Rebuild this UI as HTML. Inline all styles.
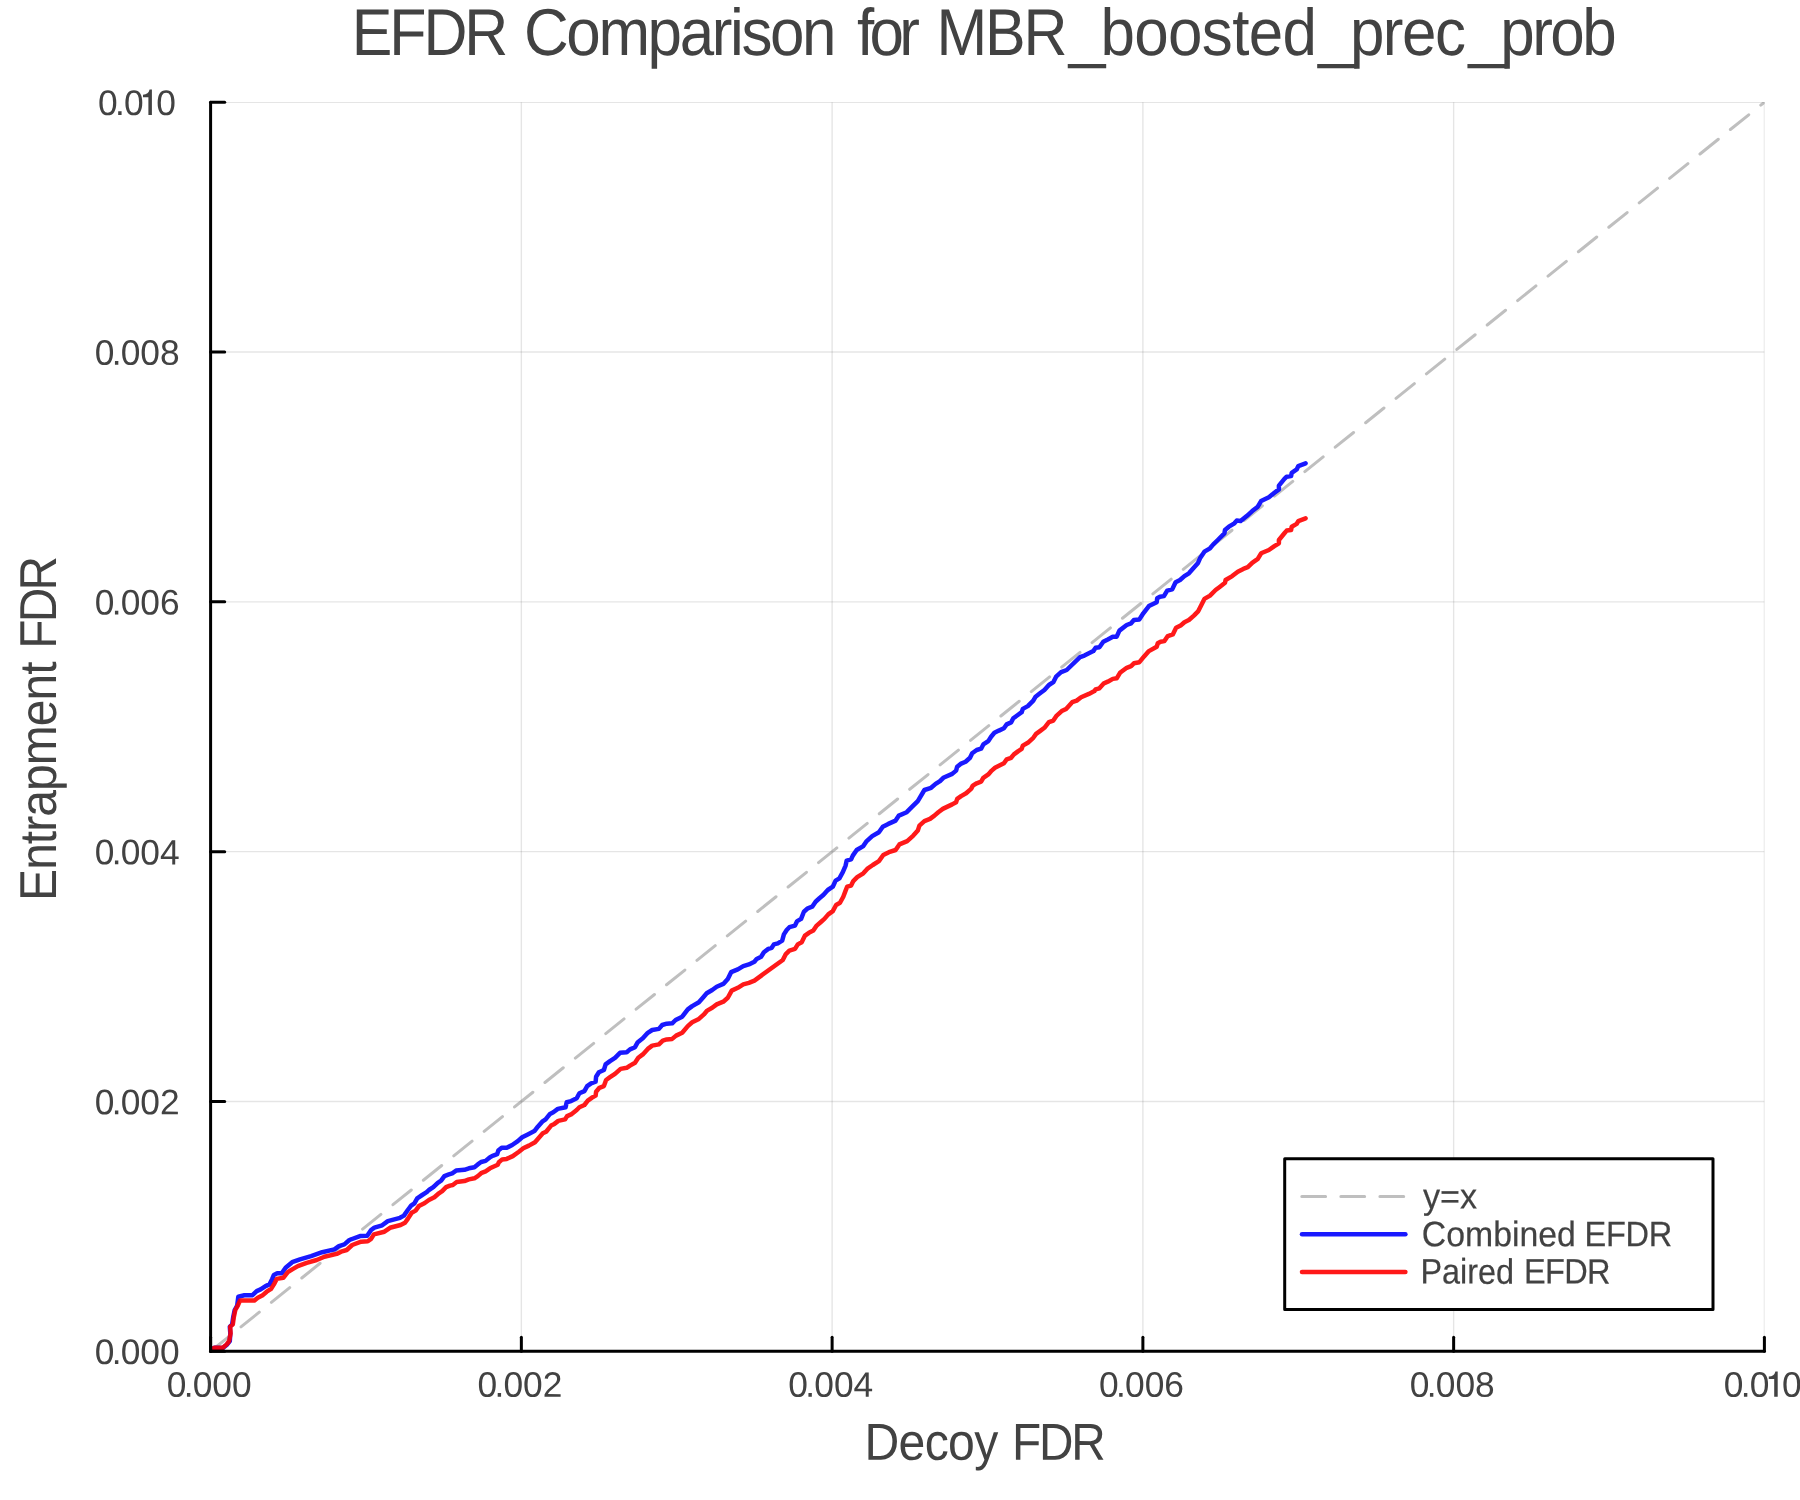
<!DOCTYPE html>
<html lang="en"><head><meta charset="utf-8"><title>EFDR Comparison for MBR_boosted_prec_prob</title>
<style>html,body{margin:0;padding:0;background:#fff;}body{width:1800px;height:1500px;overflow:hidden;}svg{display:block;will-change:transform;}text{font-family:"Liberation Sans",sans-serif;fill:#424242;}</style></head><body>
<svg width="1800" height="1500" viewBox="0 0 1800 1500">
<rect width="1800" height="1500" fill="#fff"/>
<defs><clipPath id="pa"><rect x="210.6" y="101.95" width="1554.0500000000002" height="1249.35"/></clipPath></defs>
<g clip-path="url(#pa)" stroke="#000" stroke-opacity="0.1" stroke-width="1.4" fill="none">
<line x1="210.60" y1="102.20" x2="210.60" y2="1351.30"/>
<line x1="210.60" y1="1351.30" x2="1764.40" y2="1351.30"/>
<line x1="521.36" y1="102.20" x2="521.36" y2="1351.30"/>
<line x1="210.60" y1="1101.48" x2="1764.40" y2="1101.48"/>
<line x1="832.12" y1="102.20" x2="832.12" y2="1351.30"/>
<line x1="210.60" y1="851.66" x2="1764.40" y2="851.66"/>
<line x1="1142.88" y1="102.20" x2="1142.88" y2="1351.30"/>
<line x1="210.60" y1="601.84" x2="1764.40" y2="601.84"/>
<line x1="1453.64" y1="102.20" x2="1453.64" y2="1351.30"/>
<line x1="210.60" y1="352.02" x2="1764.40" y2="352.02"/>
<line x1="1764.40" y1="102.20" x2="1764.40" y2="1351.30"/>
<line x1="210.60" y1="102.20" x2="1764.40" y2="102.20"/>
</g>
<g clip-path="url(#pa)" fill="none" stroke-linecap="round" stroke-linejoin="round">
<line x1="210.6" y1="1351.3" x2="1764.4" y2="102.2" stroke="#808080" stroke-opacity="0.5" stroke-width="3" stroke-dasharray="23.5 15.5"/>
<path d="M211.1,1349.4 L214.4,1347.8 L222.8,1348.0 L227.2,1344.4 L229.8,1341.1 L230.3,1333.3 L229.8,1326.7 L232.2,1324.2 L233.3,1316.7 L234.7,1310.0 L237.2,1305.6 L238.3,1296.7 L244.4,1295.3 L252.2,1295.3 L256.7,1291.1 L260.6,1289.4 L265.6,1286.1 L269.4,1284.4 L272.2,1278.9 L273.9,1275.0 L277.2,1273.3 L281.7,1273.3 L285.6,1267.8 L292.2,1262.2 L300.0,1259.4 L311.1,1256.1 L322.2,1252.2 L334.4,1249.4 L338.9,1246.1 L344.4,1244.4 L349.4,1240.0 L360.0,1236.1 L367.2,1235.8 L371.1,1230.0 L374.4,1227.6 L382.2,1225.3 L387.8,1221.1 L400.0,1217.8 L403.9,1215.6 L407.8,1210.0 L411.1,1205.6 L414.4,1203.3 L417.2,1198.3 L422.2,1195.0 L426.7,1192.2 L428.9,1190.0 L433.3,1187.2 L437.8,1182.8 L441.1,1180.6 L444.4,1176.1 L448.9,1174.4 L452.2,1173.3 L456.1,1170.6 L464.4,1169.8 L468.9,1168.3 L474.4,1167.2 L477.8,1164.4 L481.1,1162.0 L485.6,1160.9 L490.0,1157.2 L493.3,1155.6 L497.2,1154.2 L498.3,1150.6 L501.7,1147.8 L506.7,1147.8 L512.2,1145.0 L517.8,1141.1 L522.2,1137.2 L527.8,1134.4 L534.4,1131.1 L537.8,1126.7 L542.2,1121.7 L545.6,1119.4 L550.0,1113.9 L553.3,1112.2 L557.8,1108.9 L565.6,1107.2 L566.7,1102.2 L571.1,1101.1 L576.7,1098.3 L579.4,1093.3 L584.4,1091.1 L587.2,1086.1 L591.1,1083.3 L595.6,1081.7 L596.1,1076.7 L598.9,1072.2 L603.9,1070.0 L605.6,1064.4 L610.0,1061.1 L615.0,1057.8 L620.0,1052.8 L626.7,1052.2 L630.0,1049.4 L635.0,1047.2 L637.8,1042.2 L642.8,1038.3 L647.8,1032.8 L652.2,1030.0 L658.9,1028.9 L662.2,1025.0 L666.7,1023.7 L672.2,1023.3 L675.6,1020.0 L682.2,1016.7 L687.8,1009.4 L692.2,1006.1 L698.9,1002.2 L703.3,997.2 L706.7,993.3 L712.2,990.0 L716.7,986.7 L723.3,983.9 L727.8,978.9 L731.1,972.2 L737.8,969.4 L743.3,966.1 L748.9,964.4 L754.4,961.7 L756.7,958.9 L761.1,956.7 L763.9,952.2 L768.3,948.9 L771.7,947.8 L773.9,944.4 L777.8,943.3 L782.2,940.6 L783.9,934.4 L786.7,930.0 L789.4,927.2 L795.0,925.6 L797.2,921.1 L801.1,918.9 L803.9,911.7 L807.8,908.3 L812.2,906.7 L815.6,901.7 L819.4,898.3 L823.3,895.0 L827.8,890.0 L832.8,886.7 L835.6,880.6 L839.4,878.3 L842.8,872.2 L845.6,865.6 L846.7,860.6 L851.1,859.4 L852.8,855.6 L856.7,850.0 L863.3,846.1 L866.7,841.1 L872.2,836.1 L878.9,832.2 L882.8,826.7 L888.3,823.9 L895.6,820.6 L898.9,815.6 L906.7,812.2 L912.2,806.7 L917.8,801.1 L924.4,790.0 L931.1,787.8 L935.6,783.9 L940.0,781.1 L943.3,777.8 L952.2,773.9 L956.1,770.6 L957.2,766.7 L960.6,763.9 L965.6,761.7 L970.0,757.8 L972.2,753.3 L976.7,750.0 L981.1,748.7 L983.3,744.4 L988.3,741.1 L991.1,736.7 L994.4,732.8 L998.9,730.6 L1003.9,728.3 L1006.7,724.4 L1011.1,722.4 L1013.3,718.3 L1017.8,715.0 L1021.7,712.2 L1022.8,708.9 L1027.8,706.1 L1033.3,700.6 L1035.6,696.7 L1040.0,693.3 L1044.4,690.0 L1048.9,685.0 L1053.3,682.2 L1056.1,676.7 L1061.1,672.2 L1066.7,670.0 L1080.0,657.2 L1084.4,655.6 L1093.3,651.1 L1095.6,647.8 L1099.4,647.2 L1103.3,641.7 L1107.8,639.4 L1112.8,636.7 L1116.7,636.7 L1119.4,630.6 L1126.7,625.0 L1131.1,623.3 L1133.9,620.0 L1139.4,619.4 L1143.3,613.3 L1148.9,606.1 L1156.7,602.2 L1157.2,598.3 L1160.0,596.7 L1163.9,596.1 L1167.2,590.6 L1172.2,589.4 L1175.6,582.2 L1180.0,580.0 L1184.4,576.1 L1188.9,573.3 L1193.3,568.3 L1197.8,563.3 L1200.0,558.3 L1204.4,551.7 L1210.0,548.3 L1213.3,544.4 L1217.8,540.0 L1224.4,533.3 L1225.0,530.0 L1228.9,526.7 L1234.4,523.3 L1236.7,520.6 L1240.6,521.1 L1246.7,516.1 L1252.2,511.1 L1257.8,506.7 L1261.1,501.1 L1268.9,497.2 L1274.4,492.8 L1278.9,489.4 L1278.9,485.6 L1284.4,478.9 L1286.7,476.7 L1291.1,476.1 L1291.7,472.8 L1296.7,469.4 L1298.3,466.1 L1305.6,463.3" stroke="#0000ff" stroke-opacity="0.9" stroke-width="4.5"/>
<path d="M211.1,1349.4 L214.4,1347.8 L222.8,1347.8 L226.7,1344.4 L229.1,1341.1 L230.6,1333.3 L230.2,1326.7 L232.8,1324.4 L233.9,1316.7 L235.3,1310.0 L237.8,1305.6 L240.0,1300.6 L254.4,1300.6 L257.8,1297.8 L262.2,1295.6 L266.7,1291.7 L271.1,1288.9 L273.9,1284.4 L276.7,1278.9 L283.3,1277.8 L287.8,1272.2 L292.2,1269.4 L297.8,1266.1 L306.7,1262.8 L316.7,1260.0 L324.4,1256.7 L336.7,1253.9 L341.1,1251.7 L346.7,1250.0 L352.2,1245.0 L361.1,1241.7 L367.8,1241.3 L371.1,1238.9 L373.9,1234.4 L384.4,1231.7 L390.0,1227.8 L400.6,1225.0 L405.0,1222.8 L407.8,1218.9 L411.7,1212.8 L415.6,1210.6 L418.9,1206.1 L424.4,1203.3 L428.9,1200.0 L434.4,1197.2 L438.9,1193.3 L442.2,1191.1 L446.1,1187.2 L450.0,1185.6 L452.8,1185.0 L456.7,1182.0 L464.4,1181.1 L468.9,1179.4 L474.4,1178.3 L477.8,1176.1 L481.7,1172.8 L485.6,1171.3 L490.0,1168.3 L493.3,1166.7 L497.8,1164.7 L498.9,1162.2 L502.2,1159.4 L506.7,1158.9 L512.8,1156.1 L518.9,1151.7 L523.3,1148.3 L528.9,1145.6 L535.0,1142.2 L538.9,1137.8 L542.8,1133.3 L546.1,1131.7 L551.1,1125.6 L554.4,1123.9 L558.3,1120.9 L565.0,1119.4 L567.2,1116.1 L571.1,1114.4 L576.7,1110.0 L579.4,1107.2 L584.4,1105.0 L587.8,1100.6 L591.7,1097.8 L595.6,1095.6 L596.1,1091.7 L599.4,1087.8 L603.9,1086.1 L606.1,1080.0 L610.0,1077.2 L615.0,1073.9 L620.6,1068.9 L626.7,1067.8 L630.0,1065.6 L635.0,1062.8 L638.3,1057.8 L642.8,1054.4 L647.8,1048.9 L652.2,1045.6 L658.9,1044.4 L662.8,1040.6 L666.7,1039.4 L672.2,1038.9 L676.1,1035.6 L682.2,1032.8 L687.8,1026.1 L692.2,1022.2 L698.9,1018.9 L703.9,1014.4 L707.2,1010.6 L712.2,1007.8 L716.7,1004.4 L723.3,1001.7 L727.8,997.8 L731.7,990.6 L737.8,987.8 L743.3,984.4 L748.9,982.8 L754.4,980.6 L782.8,960.0 L785.6,954.4 L789.4,950.6 L795.0,948.9 L797.8,944.4 L801.7,942.2 L805.0,935.6 L808.9,932.8 L813.3,930.6 L816.7,925.6 L820.6,922.2 L824.4,918.9 L828.3,914.4 L832.8,911.1 L836.1,905.0 L840.0,902.8 L843.3,896.7 L845.6,890.6 L847.2,886.7 L851.1,885.6 L853.3,881.1 L857.2,877.2 L863.3,873.3 L867.2,868.9 L872.8,865.0 L878.9,861.1 L883.3,855.0 L888.9,852.2 L895.6,850.0 L899.4,844.4 L907.2,841.1 L913.3,835.6 L917.8,830.6 L919.4,825.6 L924.4,821.1 L930.0,818.9 L934.4,815.6 L938.3,812.2 L942.8,808.9 L952.2,804.4 L956.1,802.2 L957.2,798.9 L961.1,796.1 L966.1,793.3 L971.1,788.9 L972.8,785.6 L976.7,783.3 L981.1,781.7 L983.3,777.8 L988.3,774.4 L991.7,770.6 L995.0,767.8 L999.4,765.6 L1003.9,763.3 L1006.7,759.4 L1011.1,757.8 L1013.9,754.4 L1018.3,751.1 L1021.7,748.9 L1022.8,745.6 L1027.8,742.8 L1033.3,737.8 L1036.1,733.9 L1040.6,730.6 L1044.4,727.8 L1048.9,722.2 L1053.3,720.6 L1056.7,715.6 L1061.7,711.1 L1066.1,708.9 L1072.2,702.2 L1076.7,700.6 L1081.1,697.2 L1088.9,693.9 L1094.4,691.1 L1095.6,689.4 L1099.4,688.3 L1103.9,683.3 L1107.8,681.7 L1112.8,678.9 L1116.7,678.3 L1120.0,672.8 L1126.7,667.8 L1131.1,666.1 L1133.9,663.3 L1139.4,662.2 L1143.9,656.7 L1148.9,651.1 L1156.7,646.7 L1157.8,643.3 L1160.6,641.7 L1164.4,641.1 L1167.8,636.1 L1172.8,634.4 L1176.1,627.8 L1180.6,625.6 L1184.4,622.2 L1188.9,620.0 L1193.9,615.6 L1198.3,611.1 L1201.1,605.6 L1204.4,598.9 L1210.0,595.6 L1215.6,590.0 L1220.0,586.7 L1225.0,582.8 L1225.6,580.0 L1232.2,576.1 L1237.8,571.7 L1243.3,568.9 L1247.8,567.2 L1252.2,562.8 L1257.8,558.9 L1261.1,553.3 L1268.9,550.0 L1274.4,546.1 L1278.9,543.3 L1278.9,540.0 L1284.4,533.3 L1286.7,530.6 L1291.1,530.0 L1291.7,526.7 L1296.7,523.9 L1298.3,521.1 L1305.6,518.3" stroke="#ff0000" stroke-opacity="0.9" stroke-width="4.5"/>
</g>
<g stroke="#000" stroke-width="3" stroke-linecap="round" fill="none">
<line x1="210.6" y1="102.2" x2="210.6" y2="1351.3"/>
<line x1="210.6" y1="1351.3" x2="1764.4" y2="1351.3"/>
<line x1="210.60" y1="1351.3" x2="210.60" y2="1337.20"/>
<line x1="210.6" y1="1351.30" x2="224.70" y2="1351.30"/>
<line x1="521.36" y1="1351.3" x2="521.36" y2="1337.20"/>
<line x1="210.6" y1="1101.48" x2="224.70" y2="1101.48"/>
<line x1="832.12" y1="1351.3" x2="832.12" y2="1337.20"/>
<line x1="210.6" y1="851.66" x2="224.70" y2="851.66"/>
<line x1="1142.88" y1="1351.3" x2="1142.88" y2="1337.20"/>
<line x1="210.6" y1="601.84" x2="224.70" y2="601.84"/>
<line x1="1453.64" y1="1351.3" x2="1453.64" y2="1337.20"/>
<line x1="210.6" y1="352.02" x2="224.70" y2="352.02"/>
<line x1="1764.40" y1="1351.3" x2="1764.40" y2="1337.20"/>
<line x1="210.6" y1="102.20" x2="224.70" y2="102.20"/>
</g>
<text transform="translate(166.79,1396.80) rotate(0.03) scale(1.0,1.0)" font-size="35.35">0<tspan dx="-2.7">.</tspan><tspan dx="-0.86">000</tspan></text>
<text transform="translate(94.79,1364.00) rotate(0.03) scale(1.0,1.0)" font-size="35.35">0<tspan dx="-2.7">.</tspan><tspan dx="-0.86">000</tspan></text>
<text transform="translate(477.55,1396.80) rotate(0.03) scale(1.0,1.0)" font-size="35.35">0<tspan dx="-2.7">.</tspan><tspan dx="-0.86">002</tspan></text>
<text transform="translate(94.79,1114.18) rotate(0.03) scale(1.0,1.0)" font-size="35.35">0<tspan dx="-2.7">.</tspan><tspan dx="-0.86">002</tspan></text>
<text transform="translate(788.31,1396.80) rotate(0.03) scale(1.0,1.0)" font-size="35.35">0<tspan dx="-2.7">.</tspan><tspan dx="-0.86">004</tspan></text>
<text transform="translate(94.79,864.36) rotate(0.03) scale(1.0,1.0)" font-size="35.35">0<tspan dx="-2.7">.</tspan><tspan dx="-0.86">004</tspan></text>
<text transform="translate(1099.07,1396.80) rotate(0.03) scale(1.0,1.0)" font-size="35.35">0<tspan dx="-2.7">.</tspan><tspan dx="-0.86">006</tspan></text>
<text transform="translate(94.79,614.54) rotate(0.03) scale(1.0,1.0)" font-size="35.35">0<tspan dx="-2.7">.</tspan><tspan dx="-0.86">006</tspan></text>
<text transform="translate(1409.83,1396.80) rotate(0.03) scale(1.0,1.0)" font-size="35.35">0<tspan dx="-2.7">.</tspan><tspan dx="-0.86">008</tspan></text>
<text transform="translate(94.79,364.72) rotate(0.03) scale(1.0,1.0)" font-size="35.35">0<tspan dx="-2.7">.</tspan><tspan dx="-0.86">008</tspan></text>
<text transform="translate(1723.79,1396.80) rotate(0.03) scale(1.0,1.0)" font-size="35.35">0<tspan dx="-2.7">.</tspan><tspan dx="-0.86">0</tspan></text><path fill="#424242" d="M1777.70,1396.80 L1777.70,1371.40 L1775.40,1371.40 Q1774.30,1376.20 1768.80,1376.60 L1768.80,1379.10 L1774.20,1379.10 L1774.20,1396.80 Z"/><text transform="translate(1782.09,1396.80) rotate(0.03) scale(1.0,1.0)" font-size="35.35">0</text>
<text transform="translate(97.99,114.90) rotate(0.03) scale(1.0,1.0)" font-size="35.35">0<tspan dx="-2.7">.</tspan><tspan dx="-0.86">0</tspan></text><path fill="#424242" d="M151.90,114.90 L151.90,89.50 L149.60,89.50 Q148.50,94.30 143.00,94.70 L143.00,97.20 L148.40,97.20 L148.40,114.90 Z"/><text transform="translate(156.29,114.90) rotate(0.03) scale(1.0,1.0)" font-size="35.35">0</text>
<g font-size="66.2">
<text transform="translate(351.80,54.90) rotate(0.03) scale(0.92,1)" letter-spacing="-3.385">EFDR</text>
<text transform="translate(524.00,54.90) rotate(0.03) scale(0.935,1)" letter-spacing="-2.516">Comparison</text>
<text transform="translate(857.00,54.90) rotate(0.03) scale(0.935,1)" letter-spacing="-4.953">for</text>
<text transform="translate(936.40,54.90) rotate(0.03) scale(0.92,1)" letter-spacing="-2.298">MBR</text>
<text transform="translate(1068.80,54.90) rotate(0.03) scale(0.9967,1)" letter-spacing="-1.21">_</text>
<text transform="translate(1100.50,54.90) rotate(0.03) scale(0.935,1)" letter-spacing="-0.675">boosted</text>
<text transform="translate(1318.20,54.90) rotate(0.03) scale(1.0225,1)" letter-spacing="-1.21">_</text>
<text transform="translate(1349.90,54.90) rotate(0.03) scale(0.935,1)" letter-spacing="-1.567">prec</text>
<text transform="translate(1468.50,54.90) rotate(0.03) scale(1.0355,1)" letter-spacing="-1.21">_</text>
<text transform="translate(1500.20,54.90) rotate(0.03) scale(0.935,1)" letter-spacing="-2.636">prob</text>
</g>
<g font-size="51.9">
<text transform="translate(864.50,1459.80) rotate(0.03) scale(0.9271,1)" letter-spacing="-0.72">Decoy</text>
<text transform="translate(1012.00,1459.80) rotate(0.03) scale(0.92,1)" letter-spacing="-2.35">FDR</text>
</g>
<g font-size="51.9">
<text transform="translate(55.90,900.90) rotate(-89.97) scale(0.9237,1)" letter-spacing="-1.0">Entrapment</text>
<text transform="translate(55.90,648.70) rotate(-89.97) scale(0.92,1)" letter-spacing="-2.902">FDR</text>
</g>
<rect x="1284.7" y="1158.7" width="428.3" height="150.8" fill="#fff" stroke="#000" stroke-width="3" stroke-linejoin="round"/>
<g fill="none" stroke-linecap="round">
<line x1="1301.8" y1="1196.4" x2="1405" y2="1196.4" stroke="#808080" stroke-opacity="0.5" stroke-width="3" stroke-dasharray="23.8 15.25"/>
<line x1="1302" y1="1234.2" x2="1405.4" y2="1234.2" stroke="#0000ff" stroke-opacity="0.9" stroke-width="4.5"/>
<line x1="1302" y1="1271.95" x2="1405.4" y2="1271.95" stroke="#ff0000" stroke-opacity="0.9" stroke-width="4.5"/>
</g>
<g font-size="35.4" stroke="#424242" stroke-width="0.2">
<text transform="translate(1423.00,1208.60) rotate(0.03) scale(0.9651,1)" letter-spacing="0">y=x</text>
<text transform="translate(1421.80,1246.30) rotate(0.03) scale(0.9547,1)" letter-spacing="0">Combined</text>
<text transform="translate(1584.60,1246.30) rotate(0.03) scale(0.92,1)" letter-spacing="-0.362">EFDR</text>
<text transform="translate(1420.40,1283.60) rotate(0.03) scale(0.9151,1)" letter-spacing="0">Paired</text>
<text transform="translate(1523.90,1283.60) rotate(0.03) scale(0.92,1)" letter-spacing="-0.726">EFDR</text>
</g>
</svg></body></html>
